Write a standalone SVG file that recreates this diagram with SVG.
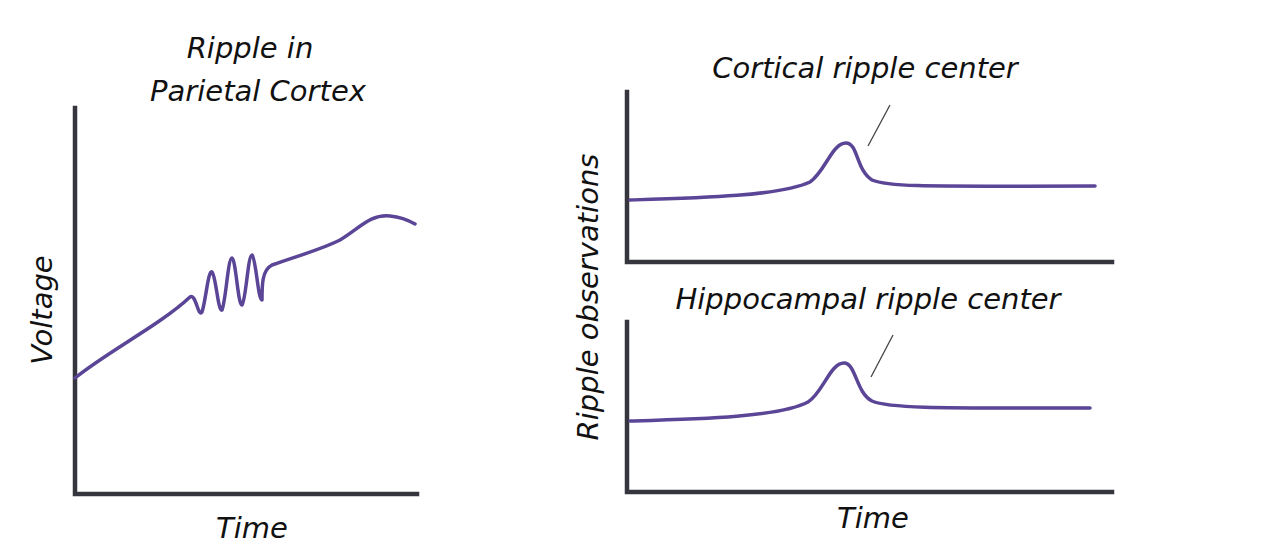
<svg xmlns="http://www.w3.org/2000/svg" width="1280" height="557" viewBox="0 0 1280 557">
<style>
.ax{stroke:#35353d;stroke-width:4.5;fill:none;stroke-linecap:square}
.cv{stroke:#5a4596;stroke-width:3.5;fill:none;stroke-linecap:round;stroke-linejoin:round}
.ld{stroke:#444;stroke-width:1.3;fill:none}
text{font-family:"DejaVu Sans",sans-serif;font-style:oblique;font-size:29px;fill:#111}
</style>
<rect width="1280" height="557" fill="#fff"/>
<g id="connectors">
<path class="ld" d="M868,146 L890,105"/>
<path class="ld" d="M871,377 L893,335"/>
</g>
<g id="left-plot">
<path class="ax" d="M75,108 V494 H417"/>
<path class="cv" d="M75,378 C110,350 160,325 190,297 C196,293 198,318 202,312 C206,300 208,270 212,272 C216,276 218,312 222,310 C226,300 228,258 232,258 C236,260 238,306 242,305 C246,300 248,255 252,255 C256,258 258,300 262,300 C262,285 262,270 272,265 C300,255 320,250 340,240 C360,228 370,214 390,216 C400,217 408,220 415,224"/>
<text x="250" y="58" text-anchor="middle">Ripple in</text>
<text x="258" y="101" text-anchor="middle">Parietal Cortex</text>
<text transform="translate(52,310) rotate(-90)" text-anchor="middle">Voltage</text>
<text x="252" y="538" text-anchor="middle">Time</text>
</g>
<g id="top-plot">
<path class="ax" d="M627,92 V262 H1112"/>
<path class="cv" d="M630,200 C700,198 780,196 810,182 C825,172 832,143 846,143 C858,143 856,170 872,180 C890,188 950,186 1095,186"/>
<text x="865" y="78" text-anchor="middle">Cortical ripple center</text>
</g>
<g id="bottom-plot">
<path class="ax" d="M627,322 V492 H1112"/>
<path class="cv" d="M630,421 C700,419 780,417 808,402 C823,393 830,363 844,363 C856,363 856,393 872,401 C890,409 950,408 1090,408"/>
<text x="868" y="309" text-anchor="middle">Hippocampal ripple center</text>
<text x="873" y="528" text-anchor="middle">Time</text>
</g>
<text transform="translate(598,297) rotate(-90)" text-anchor="middle">Ripple observations</text>
</svg>
